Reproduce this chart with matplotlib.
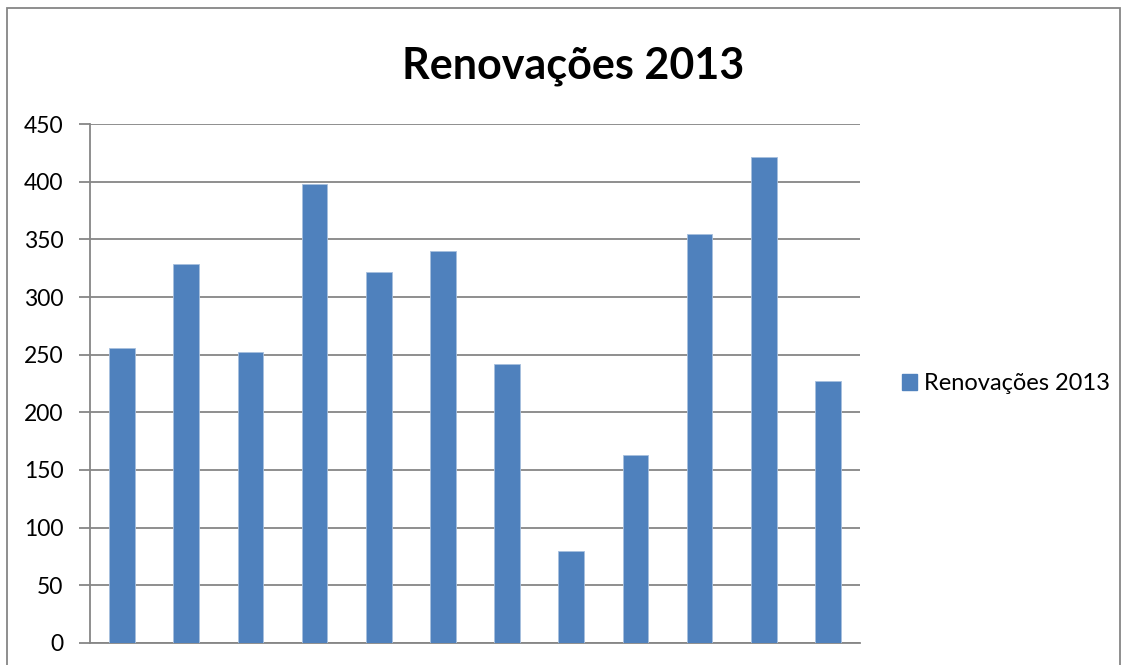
import numpy as np
import matplotlib.pyplot as plt
from matplotlib.patches import Rectangle, Patch

# valores
meses = np.arange(1, 13)
renovacoes = [256, 329, 252, 398, 322, 340, 242, 80, 163, 355, 421, 227]
y_ticks = [0, 50, 100, 150, 200, 250, 300, 350, 400, 450]

titulo = "Renovações 2013"
cor_barra = "#4F81BD"
cor_grade = "#868686"

plt.rcParams['font.family'] = ['Lato', 'DejaVu Sans']

fig = plt.figure(figsize=(11.28, 6.65), dpi=100)
ax = fig.add_axes([0.0798, 0.0331, 0.6826, 0.7804])

ax.bar(meses, renovacoes, width=0.4, color=cor_barra, edgecolor="#A7BFDE", linewidth=0.6,
       zorder=3, label=titulo)

ax.set_xlim(0.5, 12.5)
ax.set_ylim(0, 450)
ax.set_yticks(y_ticks)
ax.set_xticks([])
ax.yaxis.grid(True, color=cor_grade, linewidth=1.3, zorder=0)
ax.tick_params(axis='y', labelsize=16.5, length=8, width=1.3, color=cor_grade, pad=11)
for s in ['top', 'right']:
    ax.spines[s].set_visible(False)
for s in ['left', 'bottom']:
    ax.spines[s].set_color(cor_grade)
    ax.spines[s].set_linewidth(1.3)

fig.text(0.5085, 0.9, titulo, ha='center', va='center', fontsize=31, fontweight='bold')

leg = ax.legend(handles=[Patch(color=cor_barra, label=titulo)], loc='center left',
                bbox_to_anchor=(1.027, 0.5), frameon=False, fontsize=17,
                handlelength=0.65, handleheight=0.65, handletextpad=0.3)

# borda da área do gráfico
fig.patches.append(Rectangle((0.0065, -0.05), 0.9865, 1.038, transform=fig.transFigure,
                             fill=False, edgecolor=cor_grade, linewidth=1.3))

fig.savefig("out.png", dpi=100)
